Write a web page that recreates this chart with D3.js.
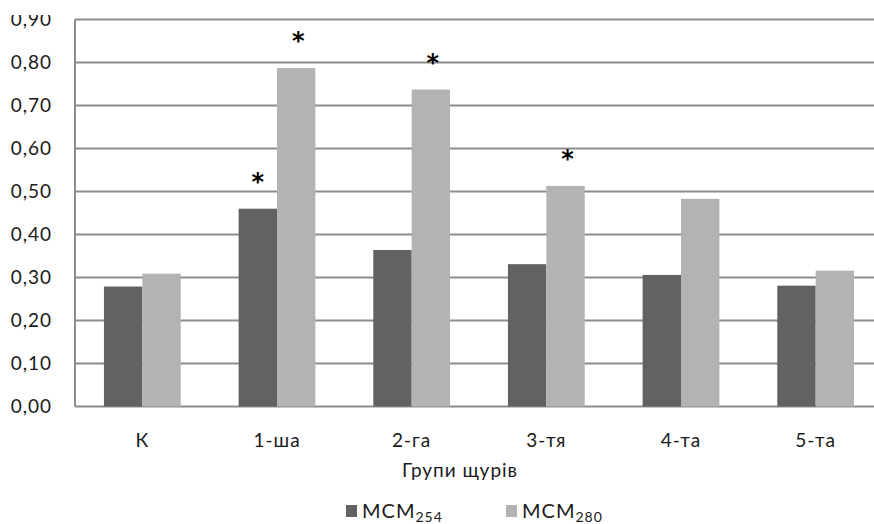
<!DOCTYPE html>
<html>
<head>
<meta charset="utf-8">
<script src="https://cdn.jsdelivr.net/npm/d3@7"></script>
<style>
  body { margin: 0; background: #fff; }
  svg { display: block; font-family: Lato, "Open Sans", sans-serif; }
</style>
</head>
<body>
<svg width="874" height="524"></svg>
<script>
const categories = ["К", "1-ша", "2-га", "3-тя", "4-та", "5-та"];
const mcm254 = [0.279, 0.46, 0.364, 0.331, 0.306, 0.281];
const mcm280 = [0.309, 0.787, 0.737, 0.513, 0.483, 0.316];
// зірочки над стовпчиками (достовірна різниця)
const sig254 = [false, true, false, false, false, false];
const sig280 = [false, true, true, true, false, false];
const yTicks = [0, 0.1, 0.2, 0.3, 0.4, 0.5, 0.6, 0.7, 0.8, 0.9];
const seriesNames = ["254", "280"];
const colors = ["#626262", "#b3b3b3"];

const margin = { left: 75, top: 19.5, bottom: 406.5 };
const plotRight = 883; // plot is cut off by the right edge
const textColor = "#1a1a1a";

const svg = d3.select("svg");

const y = d3.scaleLinear().domain([0, 0.9]).range([margin.bottom, margin.top]);
const x = d3.scaleBand()
  .domain(categories)
  .range([margin.left, plotRight])
  .paddingInner(0.43)
  .paddingOuter(0.215);
const xs = d3.scaleBand().domain(seriesNames).range([0, x.bandwidth()]);

// top of the "0,90" label is cut in the original
svg.append("clipPath").attr("id", "topclip")
  .append("rect").attr("x", -200).attr("y", 15).attr("width", 400).attr("height", 509);

// gridlines
svg.append("g")
  .selectAll("line")
  .data(yTicks)
  .join("line")
  .attr("x1", margin.left)
  .attr("x2", plotRight)
  .attr("y1", (d) => y(d))
  .attr("y2", (d) => y(d))
  .attr("stroke", "#8c8c8c")
  .attr("stroke-width", 2);

// left axis line
svg.append("line")
  .attr("x1", margin.left).attr("x2", margin.left)
  .attr("y1", y(0.9)).attr("y2", y(0))
  .attr("stroke", "#8c8c8c").attr("stroke-width", 2);

// y labels
const yAxis = svg.append("g")
  .attr("clip-path", "url(#topclip)")
  .attr("transform", `translate(${margin.left - 23},0)`)
  .call(d3.axisLeft(y).tickValues(yTicks).tickSize(0).tickPadding(0)
    .tickFormat((d) => d3.format(".2f")(d).replace(".", ",")));
yAxis.select(".domain").remove();
yAxis.selectAll("text")
  .attr("font-size", 19)
  .attr("letter-spacing", 1)
  .attr("fill", textColor)
  .attr("font-family", "Lato, sans-serif");

// bars
const groups = svg.append("g")
  .selectAll("g")
  .data(categories)
  .join("g")
  .attr("transform", (d) => `translate(${x(d)},0)`);

const series = [mcm254, mcm280];
const sigs = [sig254, sig280];

groups.selectAll("rect")
  .data((d, i) => series.map((s, k) => ({ k, v: s[i] })))
  .join("rect")
  .attr("x", (d) => xs(seriesNames[d.k]))
  .attr("width", xs.bandwidth())
  .attr("y", (d) => y(d.v))
  .attr("height", (d) => y(0) - y(d.v))
  .attr("fill", (d) => colors[d.k]);

groups.selectAll("text.star")
  .data((d, i) => series.map((s, k) => ({ k, v: s[i], sig: sigs[k][i] })).filter((d) => d.sig))
  .join("text")
  .attr("class", "star")
  .attr("x", (d) => xs(seriesNames[d.k]) + xs.bandwidth() / 2 + (d.k === 1 ? 2 : 0))
  .attr("y", (d) => y(d.v) - 19)
  .attr("text-anchor", "middle")
  .attr("font-size", 24)
  .attr("font-weight", "bold")
  .attr("font-family", "DejaVu Sans, sans-serif")
  .attr("fill", "#000")
  .text("*");

// x labels
const xAxis = svg.append("g")
  .attr("transform", `translate(0,${y(0) + 27})`)
  .call(d3.axisBottom(x).tickSize(0).tickPadding(0));
xAxis.select(".domain").remove();
xAxis.selectAll("text")
  .attr("font-size", 19)
  .attr("letter-spacing", 1)
  .attr("fill", textColor)
  .attr("font-family", "Lato, sans-serif");

// axis title
svg.append("text")
  .attr("x", 460).attr("y", 477)
  .attr("text-anchor", "middle")
  .attr("font-size", 19)
  .attr("letter-spacing", 1)
  .attr("fill", textColor)
  .text("Групи щурів");

// legend
const legend = svg.append("g")
  .selectAll("g")
  .data(seriesNames)
  .join("g")
  .attr("transform", (d, i) => `translate(${346 + i * 160},505)`);
legend.append("rect").attr("width", 11).attr("height", 12).attr("fill", (d, i) => colors[i]);
const lt = legend.append("text")
  .attr("x", 16).attr("y", 13)
  .attr("font-size", 20)
  .attr("letter-spacing", 1)
  .attr("fill", textColor);
lt.append("tspan").text("МСМ");
lt.append("tspan").attr("font-size", 14).attr("dy", 4).text((d) => d);
</script>
</body>
</html>
